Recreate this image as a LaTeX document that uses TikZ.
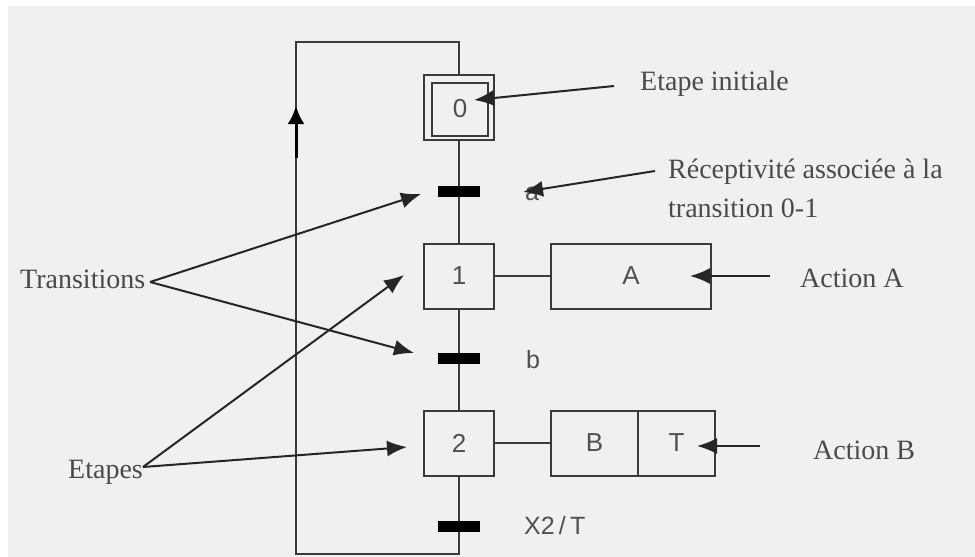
\documentclass[tikz,border=0pt]{standalone}
\usepackage{fontspec}
\setmainfont{Liberation Serif}
\newfontfamily\sansf{Liberation Sans}
\usetikzlibrary{arrows.meta}
\definecolor{bgcol}{HTML}{F0F0F0}
\definecolor{linecol}{HTML}{3A3A3A}
\definecolor{txtcol}{HTML}{4A4A4A}
\definecolor{numcol}{HTML}{505050}
\tikzset{
  wire/.style={draw=linecol, line width=2pt},
  stepbox/.style={rectangle, draw=linecol, line width=2pt, fill=bgcol,
    minimum width=70pt, minimum height=65pt, inner sep=0pt,
    font=\sansf\fontsize{26}{30}\selectfont, text=numcol},
  actbox/.style={stepbox, minimum width=#1},
  bar/.style={rectangle, fill=black, minimum width=42pt, minimum height=11pt, inner sep=0pt},
  lbl/.style={anchor=base west, inner sep=0pt, font=\fontsize{28}{32}\selectfont, text=txtcol},
  slbl/.style={inner sep=0pt, font=\sansf\fontsize{25}{29}\selectfont, text=numcol},
  pointer/.style={draw=black!85, line width=2pt, -{Latex[length=20pt,width=16pt]}},
}
\begin{document}
\begin{tikzpicture}[x=1pt, y=-1pt]
  % canvas
  \useasboundingbox (0,0) rectangle (975,557);
  \fill[white] (0,0) rectangle (975,557);
  \fill[bgcol] (8,6) rectangle (975,557);

  % loop corners
  \coordinate (c1) at (459,554);
  \coordinate (c2) at (296,554);
  \coordinate (c3) at (296,42);
  \coordinate (c4) at (459,42);

  % steps and actions
  \node[stepbox] (s0) at (459,107.5) {};
  \node[stepbox, minimum width=56pt, minimum height=53pt] (s0in) at (460,109) {0};
  \node[stepbox] (s1) at (459,276) {1};
  \node[actbox=160pt] (aA) at (631,276) {A};
  \node[stepbox] (s2) at (459,443) {2};
  \node[actbox=88pt] (aB) at (594.5,443) {B};
  \node[actbox=77pt] (aT) at (676.5,443) {T};

  % main line and loop back
  \draw[wire] (s0.south) -- (s1.north);
  \draw[wire] (s1.south) -- (s2.north);
  \draw[wire] (s2.south) -- (c1) -- (c2) -- (c3) -- (c4) -- (s0.north);
  \draw[wire] (s1.east) -- (aA.west);
  \draw[wire] (s2.east) -- (aB.west);

  % transitions
  \node[bar] (t01) at (459,191) {};
  \node[bar] (tb) at (459,358) {};
  \node[bar] (t2x) at (459,526) {};

  % receptivities
  \node[slbl] (ra) at (532,194) {a};
  \node[slbl] (rb) at (533,360) {b};
  \node[slbl, anchor=west] (rx) at (524,526) {X2\,/\,T};

  % loop direction arrow
  \coordinate (upA) at (296,158);
  \coordinate (upB) at (296,106);
  \draw[black, line width=3pt, -{Latex[length=18pt,width=17pt]}] (upA) -- (upB);

  % annotations
  \node[lbl] (ei) at (640,90) {Etape initiale};
  \node[lbl] (rc1) at (668,178) {Réceptivité associée à la};
  \node[lbl] (rc2) at (668,217) {transition 0-1};
  \node[lbl] (acA) at (800,287) {Action A};
  \node[lbl] (acB) at (813,459) {Action B};
  \node[lbl] (tr) at (20,288) {Transitions};
  \node[lbl] (et) at (68,478) {Etapes};

  \coordinate (eiT) at (614,86);   \coordinate (eiH) at (474,100);
  \coordinate (rcT) at (655,171);  \coordinate (rcH) at (523,192);
  \coordinate (aAT) at (770,276);  \coordinate (aAH) at (690,276);
  \coordinate (aBT) at (760,446);  \coordinate (aBH) at (697,446);
  \coordinate (trT) at (150,282);
  \coordinate (trH1) at (421,194); \coordinate (trH2) at (414,353);
  \coordinate (etT) at (143,467);
  \coordinate (etH1) at (404,275); \coordinate (etH2) at (407,447);

  \draw[pointer] (eiT) -- (eiH);
  \draw[pointer] (rcT) -- (rcH);
  \draw[pointer] (aAT) -- (aAH);
  \draw[pointer] (aBT) -- (aBH);
  \draw[pointer] (trT) -- (trH1);
  \draw[pointer] (trT) -- (trH2);
  \draw[pointer] (etT) -- (etH1);
  \draw[pointer] (etT) -- (etH2);
\end{tikzpicture}
\end{document}
